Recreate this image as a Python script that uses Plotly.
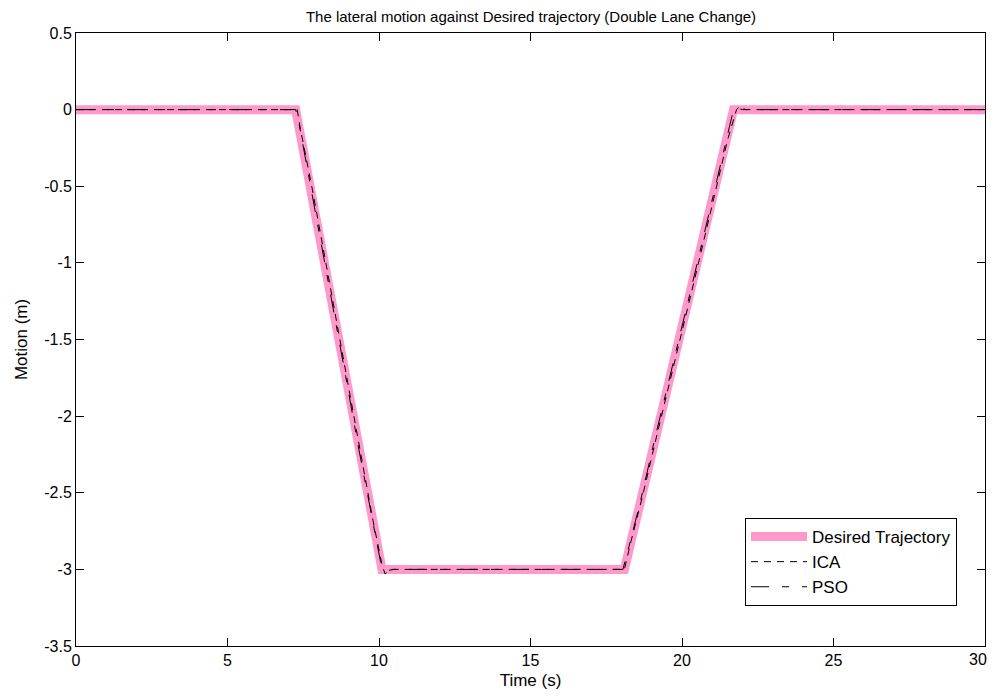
import plotly.graph_objects as go

# Desired trajectory
desired_t = [0, 7.25, 10.1, 18.1, 21.7, 30]
desired_y = [0, 0, -3, -3, 0, 0]

# ICA response
ica_t = [0, 7.3, 7.4, 7.8, 8.2, 8.6, 9.0, 9.4, 9.8, 10.1, 10.2, 10.4, 14.0, 18.1, 18.3, 18.7, 19.2, 19.8, 20.4, 21.0, 21.5, 21.8, 21.9, 22.1, 30]
ica_y = [0, 0, -0.12, -0.52, -0.95, -1.38, -1.82, -2.25, -2.68, -2.97, -3.03, -3.0, -3.0, -3.0, -2.83, -2.52, -2.1, -1.62, -1.12, -0.62, -0.2, 0.0, 0.02, 0.0, 0]

# PSO response
pso_t = [0, 7.25, 7.35, 7.7, 8.1, 8.5, 8.9, 9.3, 9.7, 10.05, 10.2, 10.5, 14.0, 18.05, 18.25, 18.6, 19.1, 19.7, 20.3, 20.9, 21.4, 21.7, 21.8, 22.0, 30]
pso_y = [0, 0, -0.08, -0.45, -0.88, -1.3, -1.74, -2.18, -2.6, -2.95, -3.01, -3.0, -3.0, -3.0, -2.85, -2.58, -2.15, -1.67, -1.17, -0.67, -0.25, 0.0, 0.01, 0.0, 0]

x_ticks = [0, 5, 10, 15, 20, 25, 30]
x_tick_labels = ["0", "5", "10", "15", "20", "25", "30"]
y_ticks = [0.5, 0, -0.5, -1, -1.5, -2, -2.5, -3, -3.5]
y_tick_labels = ["0.5", "0", "-0.5", "-1", "-1.5", "-2", "-2.5", "-3", "-3.5"]

fig = go.Figure()
fig.add_trace(go.Scatter(x=desired_t, y=desired_y, mode="lines", name="Desired Trajectory",
                         line=dict(color="#FF99CC", width=9)))
fig.add_trace(go.Scatter(x=ica_t, y=ica_y, mode="lines", name="ICA",
                         line=dict(color="black", width=1, dash="7px,6px")))
fig.add_trace(go.Scatter(x=pso_t, y=pso_y, mode="lines", name="PSO",
                         line=dict(color="black", width=1, dash="18px,13px,7px,13px")))

axis_common = dict(showline=True, linecolor="black", linewidth=1, mirror="allticks",
                   ticks="inside", ticklen=8, tickcolor="black", showgrid=False,
                   zeroline=False, tickfont=dict(size=16, color="black"))

# the last x tick label sits at the very edge of the page: draw it as an annotation
x_text = x_tick_labels[:-1] + [""]

# page body has an 8px margin, so the figure is 981x682 placed at (8, 8)
W, H = 981, 682
fig.update_layout(
    width=W, height=H,
    margin=dict(l=68, r=4, t=25, b=44),
    paper_bgcolor="white", plot_bgcolor="white",
    font=dict(family="Liberation Sans, Arial, sans-serif", color="black", size=16),
    title=dict(text="The lateral motion against Desired trajectory (Double Lane Change)",
               x=(531 - 8) / W, xanchor="center", y=1.0, yanchor="top",
               pad=dict(t=3), font=dict(size=15)),
    xaxis=dict(range=[0, 30], tickvals=x_ticks, ticktext=x_text,
               title=dict(text="Time (s)", standoff=5, font=dict(size=17)), **axis_common),
    yaxis=dict(range=[-3.5, 0.5], tickvals=y_ticks, ticktext=y_tick_labels,
               title=dict(text="Motion (m)", standoff=12, font=dict(size=17)), **axis_common),
    legend=dict(x=(957 - 76) / 909, y=(646 - 606) / 613, xanchor="right", yanchor="bottom",
                bordercolor="black", borderwidth=1, bgcolor="white",
                font=dict(size=17), tracegroupgap=0, itemwidth=56),
    showlegend=True,
)
fig.add_annotation(x=x_ticks[-1], xref="x", y=0, yref="paper", text=x_tick_labels[-1],
                   showarrow=False, xanchor="right", yanchor="top", xshift=4, yshift=-3,
                   font=dict(size=16, color="black"))

fig.write_html("out.html", config={"displayModeBar": False})
